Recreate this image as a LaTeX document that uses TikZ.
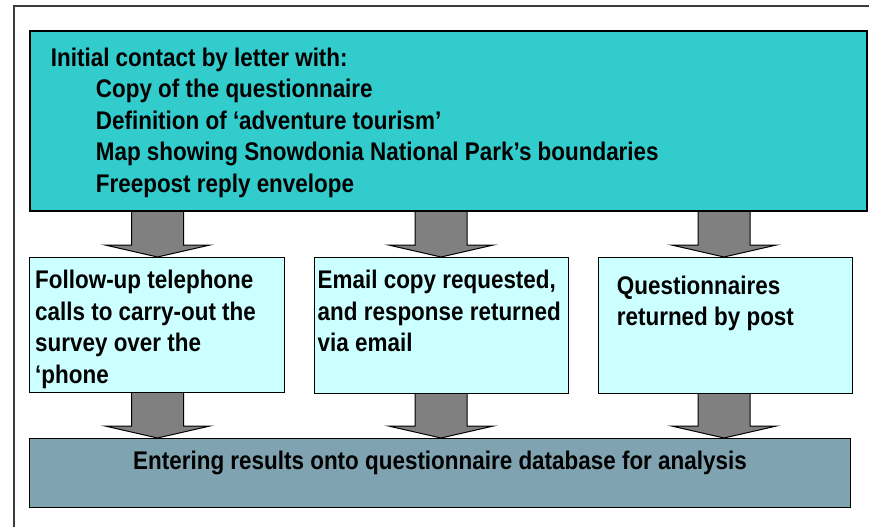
\documentclass[tikz,border=0pt]{standalone}
\usepackage{fontspec}
\setmainfont{Liberation Sans}[FakeStretch=0.88]
\usetikzlibrary{calc,backgrounds}

\definecolor{topfill}{RGB}{51,204,204}
\definecolor{midfill}{RGB}{204,255,255}
\definecolor{basefill}{RGB}{127,163,176}
\definecolor{arrowfill}{RGB}{128,128,128}
\definecolor{framecol}{RGB}{60,60,60}

\tikzset{
  box/.style={draw=black, line width=1.2pt, rectangle, inner sep=0pt, anchor=north west},
  boxtext/.style={anchor=north west, inner sep=0pt, align=left,
    font=\bfseries\fontsize{25.5}{31.5}\selectfont},
  flowshape/.style={draw=black, line width=1pt, fill=arrowfill, line join=miter},
}

% broad block arrow at column #1, from the bottom of #2 to the top of #3
\newcommand\drawflow[3]{%
  \draw[flowshape] let \p1=(#1 |- #2.south), \p2=(#1 |- #3.north) in
    (\x1-26pt,\y1) -- (\x1-26pt,\y2+12pt) -- (\x1-52.5pt,\y2+12pt) -- (\x1,\y2)
    -- (\x1+52.5pt,\y2+12pt) -- (\x1+26pt,\y2+12pt) -- (\x1+26pt,\y1);}

\begin{document}
\begin{tikzpicture}[x=1pt, y=-1pt]
  \useasboundingbox (0,0) rectangle (869,527);

  % page frame
  \draw[framecol, line width=1.5pt] (14,527) -- (14,6) -- (869,6);

  % boxes
  \node[box, fill=topfill, line width=1.6pt, minimum width=837pt, minimum height=180pt] (contact) at (29,30) {};
  \node[box, fill=midfill, minimum width=255pt, minimum height=135pt] (phone) at (29,257) {};
  \node[box, fill=midfill, minimum width=254pt, minimum height=136pt] (email) at (314,257) {};
  \node[box, fill=midfill, minimum width=254pt, minimum height=136pt] (post) at (598,257) {};
  \node[box, fill=basefill, minimum width=821pt, minimum height=69pt] (database) at (29,438) {};

  % arrow columns
  \coordinate (colA) at (157.5,0);
  \coordinate (colB) at (441,0);
  \coordinate (colC) at (724,0);

  \begin{pgfonlayer}{background}
    \drawflow{colA}{contact}{phone}
    \drawflow{colB}{contact}{email}
    \drawflow{colC}{contact}{post}
    \drawflow{colA}{phone}{database}
    \drawflow{colB}{email}{database}
    \drawflow{colC}{post}{database}
  \end{pgfonlayer}

  % texts
  \node[boxtext] (contacttext) at (50.7,43.95) {\strut Initial contact by letter with:\\
    \hspace*{45pt}Copy of the questionnaire\\
    \hspace*{45pt}Definition of ‘adventure tourism’\\
    \hspace*{45pt}Map showing Snowdonia National Park’s boundaries\\
    \hspace*{45pt}Freepost reply envelope};
  \node[boxtext] (phonetext) at (35,266.45) {\strut Follow-up telephone\\calls to carry-out the\\survey over the\\‘phone};
  \node[boxtext] (emailtext) at (317.5,266.45) {\strut Email copy requested,\\and response returned\\via email};
  \node[boxtext] (posttext) at (616.7,271.95) {\strut Questionnaires\\returned by post};
  \node[boxtext, anchor=base] (databasetext) at (440,469) {Entering results onto questionnaire database for analysis};
\end{tikzpicture}
\end{document}
